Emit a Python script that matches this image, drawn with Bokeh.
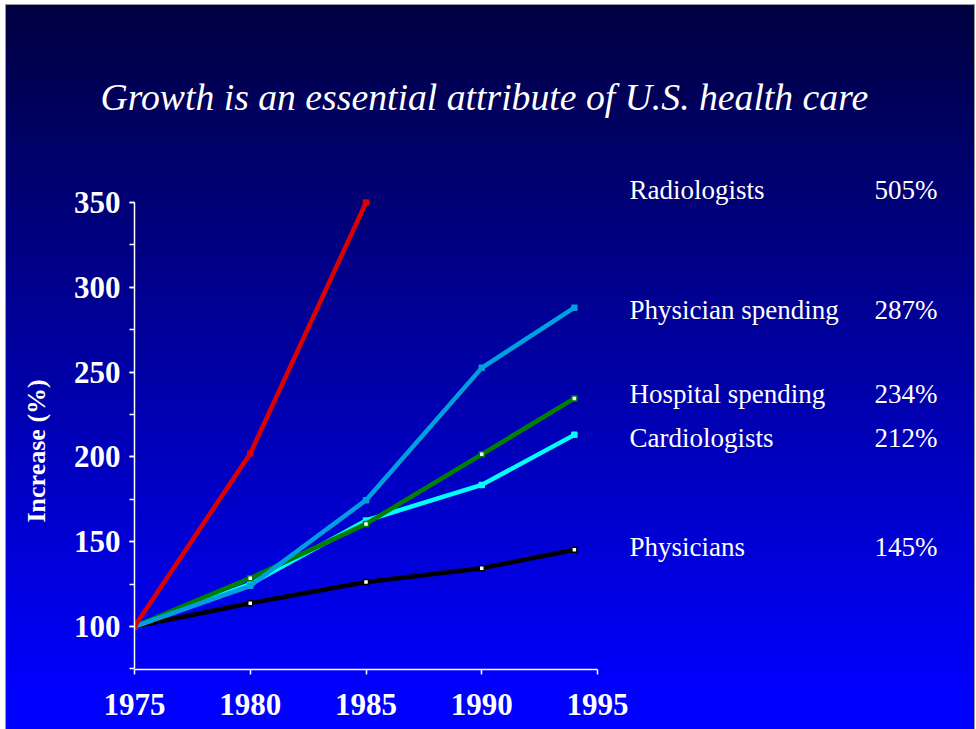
from bokeh.plotting import figure
from bokeh.models import SingleIntervalTicker, Title, ColumnDataSource
from bokeh.core.properties import value
from bokeh.embed import file_html
from bokeh.resources import INLINE

# ---- data ----
title_text = "Growth is an essential attribute of U.S. health care"
y_axis_title = "Increase (%)"

radiologists_x = [1975, 1980, 1985]
radiologists_y = [100, 202, 350]

years = [1975, 1980, 1985, 1990, 1994]
physician_spending = [100, 124, 174.5, 252.5, 288]
hospital_spending = [100, 128.5, 160.5, 201.5, 234.5]
cardiologists = [100, 125, 162.5, 183.5, 213]
physicians = [100, 113.7, 126.2, 134.4, 145.3]

series_names = ["Radiologists", "Physician spending", "Hospital spending", "Cardiologists", "Physicians"]
series_pct = ["505%", "287%", "234%", "212%", "145%"]
label_y = [357.4, 286.6, 237.1, 211.1, 146.9]

# ---- layout ----
W, H = 976, 729
serif = "Liberation Serif"

p = figure(width=W, height=H, output_backend="svg", toolbar_location=None,
           x_range=(1975, 2011.37), y_range=(74.65, 395.4),
           min_border_left=134, min_border_right=0, min_border_top=125, min_border_bottom=60)
p.styles = {
    "background": ("linear-gradient(to bottom, #000040 0%, #0000ff 95%) 6px 5px / 968px 726px no-repeat, "
                   "linear-gradient(#9a9a9a, #9a9a9a) 5px 4px / 970px 728px no-repeat, white")
}
p.background_fill_alpha = 0
p.border_fill_alpha = 0
p.outline_line_color = None
p.grid.visible = False

# chart title in the top panel
p.add_layout(Title(text=title_text, align="left", offset=-34, standoff=16,
                   text_color="white", text_font=serif, text_font_style="italic",
                   text_font_size="37.7px"), "above")

# axes
p.xaxis.bounds = (1975, 1995)
p.yaxis.bounds = (75, 350)
p.xaxis.ticker = SingleIntervalTicker(interval=5, num_minor_ticks=0)
p.yaxis.ticker = SingleIntervalTicker(interval=50, num_minor_ticks=2)
for ax in (p.xaxis[0], p.yaxis[0]):
    ax.axis_line_color = "white"
    ax.axis_line_width = 1.5
    ax.major_tick_line_color = "white"
    ax.major_tick_line_width = 1.5
    ax.minor_tick_line_color = "white"
    ax.minor_tick_line_width = 1.5
    ax.major_tick_in = 0
    ax.major_tick_out = 5
    ax.minor_tick_in = 0
    ax.minor_tick_out = 5
    ax.major_label_text_color = "white"
    ax.major_label_text_font = serif
    ax.major_label_text_font_style = "bold"
    ax.major_label_text_font_size = "31px"
p.xaxis.major_label_standoff = 19
p.yaxis.major_label_standoff = 9

# y axis title in the left panel
p.add_layout(Title(text=y_axis_title, align="left", offset=147, standoff=39,
                   text_color="white", text_font=serif, text_font_style="bold",
                   text_font_size="26px"), "left")

# lines
def series(xs, ys, color, fill, lw=4.5):
    src = ColumnDataSource(dict(x=xs, y=ys))
    p.line("x", "y", source=src, line_color=color, line_width=lw)
    p.scatter("x", "y", source=src, marker="square", size=5, fill_color=fill,
              line_color=color, line_width=1.5)

series(years, physicians, "black", "white")
series(years, cardiologists, "#00ffff", "#00ffff")
series(years, hospital_spending, "#008000", "white")
series(years, physician_spending, "#00a0e0", "#00a0e0")
series(radiologists_x, radiologists_y, "#dd0000", "#dd0000")

# right-hand labels
name_x = [1996.38] * len(series_names)
pct_x = [2009.69] * len(series_names)
p.text(x=name_x, y=label_y, text=series_names, text_color="white",
       text_font=value(serif), text_font_size="27px", text_baseline="alphabetic",
       text_align="left")
p.text(x=pct_x, y=label_y, text=series_pct, text_color="white",
       text_font=value(serif), text_font_size="27px", text_baseline="alphabetic",
       text_align="right")

open("out.html", "w").write(file_html(p, INLINE))
